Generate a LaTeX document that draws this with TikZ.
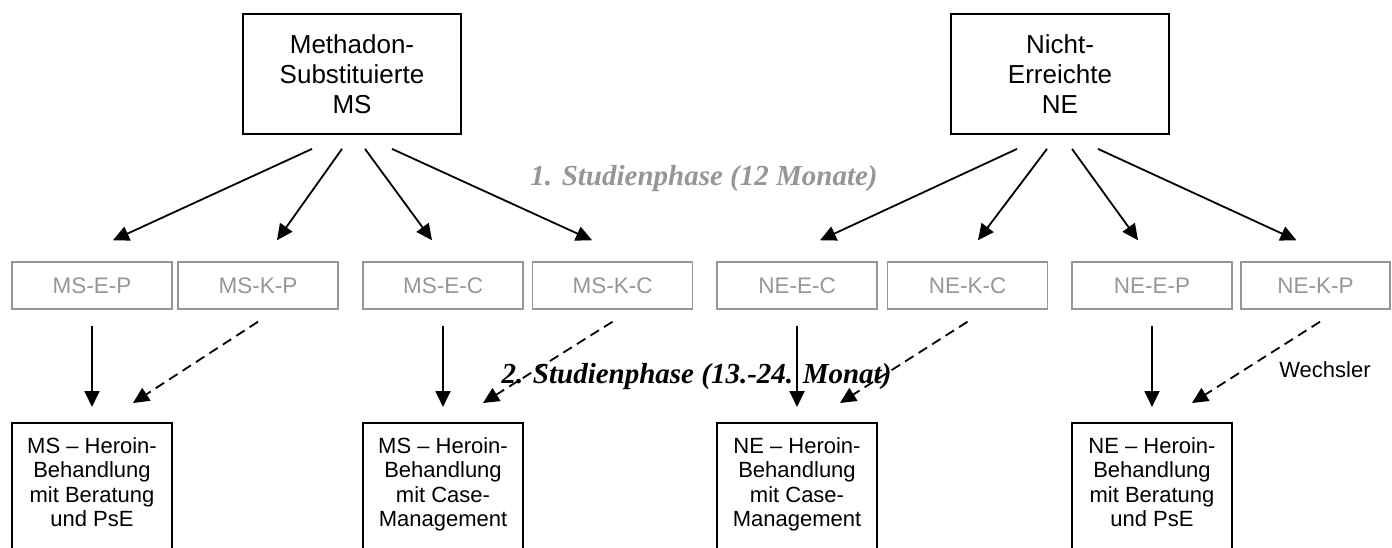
\documentclass[tikz,border=0pt]{standalone}
\usepackage{fontspec}
\setmainfont{Liberation Sans}
\newfontfamily\phasefont{Liberation Serif}
\usetikzlibrary{arrows.meta}
\definecolor{phasegray}{RGB}{150,150,150}

\begin{document}
\begin{tikzpicture}[x=1pt,y=-1pt,
  every node/.style={font=\fontsize{22}{25}\selectfont},
  groupbox/.style={draw, line width=1.8pt, minimum width=218pt, minimum height=120pt,
    inner sep=0pt, align=center, font=\fontsize{26}{30}\selectfont},
  armbox/.style={draw=phasegray, text=phasegray, line width=1.5pt,
    minimum width=160pt, minimum height=47pt, inner sep=0pt, font=\fontsize{22.5}{25}\selectfont},
  treatbox/.style={draw, line width=1.6pt, minimum width=160pt, minimum height=138pt,
    inner sep=0pt, anchor=north},
  treattext/.style={font=\fontsize{22}{24.6}\selectfont, align=center,
    inner sep=0pt, anchor=north},
  phaselabel/.style={font=\phasefont\bfseries\itshape\fontsize{29}{34}\selectfont,
    inner sep=0pt, anchor=base},
  headarrow/.style={-{Triangle[length=16pt,width=15pt]}},
  arr/.style={headarrow, line width=1.8pt},
  switcharrow/.style={arr, dash pattern=on 10pt off 6pt},
]
\clip (0,0) rectangle (1392,547);

% study groups
\node[groupbox] (ms) at (352,74) {Methadon-\\Substituierte\\MS};
\node[groupbox] (ne) at (1060,74) {Nicht-\\Erreichte\\NE};

% randomised arms
\node[armbox] (msep) at (92,285.5) {MS-E-P};
\node[armbox] (mskp) at (258,285.5) {MS-K-P};
\node[armbox] (msec) at (443,285.5) {MS-E-C};
\node[armbox] (mskc) at (612.5,285.5) {MS-K-C};
\node[armbox] (neec) at (797,285.5) {NE-E-C};
\node[armbox] (nekc) at (967.5,285.5) {NE-K-C};
\node[armbox] (neep) at (1152,285.5) {NE-E-P};
\node[armbox, minimum width=149pt] (nekp) at (1315.5,285.5) {NE-K-P};

% treatment in the second phase
\node[treatbox] (msp) at (92,422) {};
\node[treattext] (msptext) at (92,437) {MS – Heroin-\\Behandlung\\mit Beratung\\und PsE};
\node[treatbox] (msc) at (443,422) {};
\node[treattext] (msctext) at (443,437) {MS – Heroin-\\Behandlung\\mit Case-\\Management};
\node[treatbox] (nec) at (797,422) {};
\node[treattext] (nectext) at (797,437) {NE – Heroin-\\Behandlung\\mit Case-\\Management};
\node[treatbox] (nep) at (1152,422) {};
\node[treattext] (neptext) at (1152,437) {NE – Heroin-\\Behandlung\\mit Beratung\\und PsE};

% phase labels
\node[phaselabel, text=phasegray] (phase1) at (704,185) {1. Studienphase (12 Monate)};
\node[phaselabel] (phase2) at (696.5,383) {2. Studienphase (13.-24. Monat)};
\node (wechsler) at (1325,370) {Wechsler};

% first phase: randomisation
\draw[arr] ([xshift=-40pt,yshift=-14pt]ms.south) -- ([xshift=21pt,yshift=21pt]msep.north);
\draw[arr] ([xshift=-10pt,yshift=-14pt]ms.south) -- ([xshift=19pt,yshift=21pt]mskp.north);
\draw[arr] ([xshift=13pt,yshift=-14pt]ms.south) -- ([xshift=-11pt,yshift=21pt]msec.north);
\draw[arr] ([xshift=40pt,yshift=-14pt]ms.south) -- ([xshift=-20.5pt,yshift=21pt]mskc.north);
\draw[arr] ([xshift=-43pt,yshift=-14pt]ne.south) -- ([xshift=23pt,yshift=21pt]neec.north);
\draw[arr] ([xshift=-13pt,yshift=-14pt]ne.south) -- ([xshift=10.5pt,yshift=21pt]nekc.north);
\draw[arr] ([xshift=12pt,yshift=-14pt]ne.south) -- ([xshift=-14pt,yshift=21pt]neep.north);
\draw[arr] ([xshift=38pt,yshift=-14pt]ne.south) -- ([xshift=-19pt,yshift=21pt]nekp.north);

% second phase: experimental arms continue
\draw[arr] ([yshift=-16pt]msep.south) -- ([yshift=15pt]msp.north);
\draw[arr] ([yshift=-16pt]msec.south) -- ([yshift=15pt]msc.north);
\draw[arr] ([yshift=-16pt]neec.south) -- ([yshift=15pt]nec.north);
\draw[arr] ([yshift=-16pt]neep.south) -- ([yshift=15pt]nep.north);

% second phase: control arms switch
\draw[switcharrow] ([yshift=-12pt]mskp.south) -- ([xshift=41pt,yshift=19pt]msp.north);
\draw[switcharrow] ([yshift=-12pt]mskc.south) -- ([xshift=40pt,yshift=19pt]msc.north);
\draw[switcharrow] ([yshift=-12pt]nekc.south) -- ([xshift=43pt,yshift=19pt]nec.north);
\draw[switcharrow] ([xshift=4.5pt,yshift=-12pt]nekp.south) -- ([xshift=40pt,yshift=19pt]nep.north);
\end{tikzpicture}
\end{document}
